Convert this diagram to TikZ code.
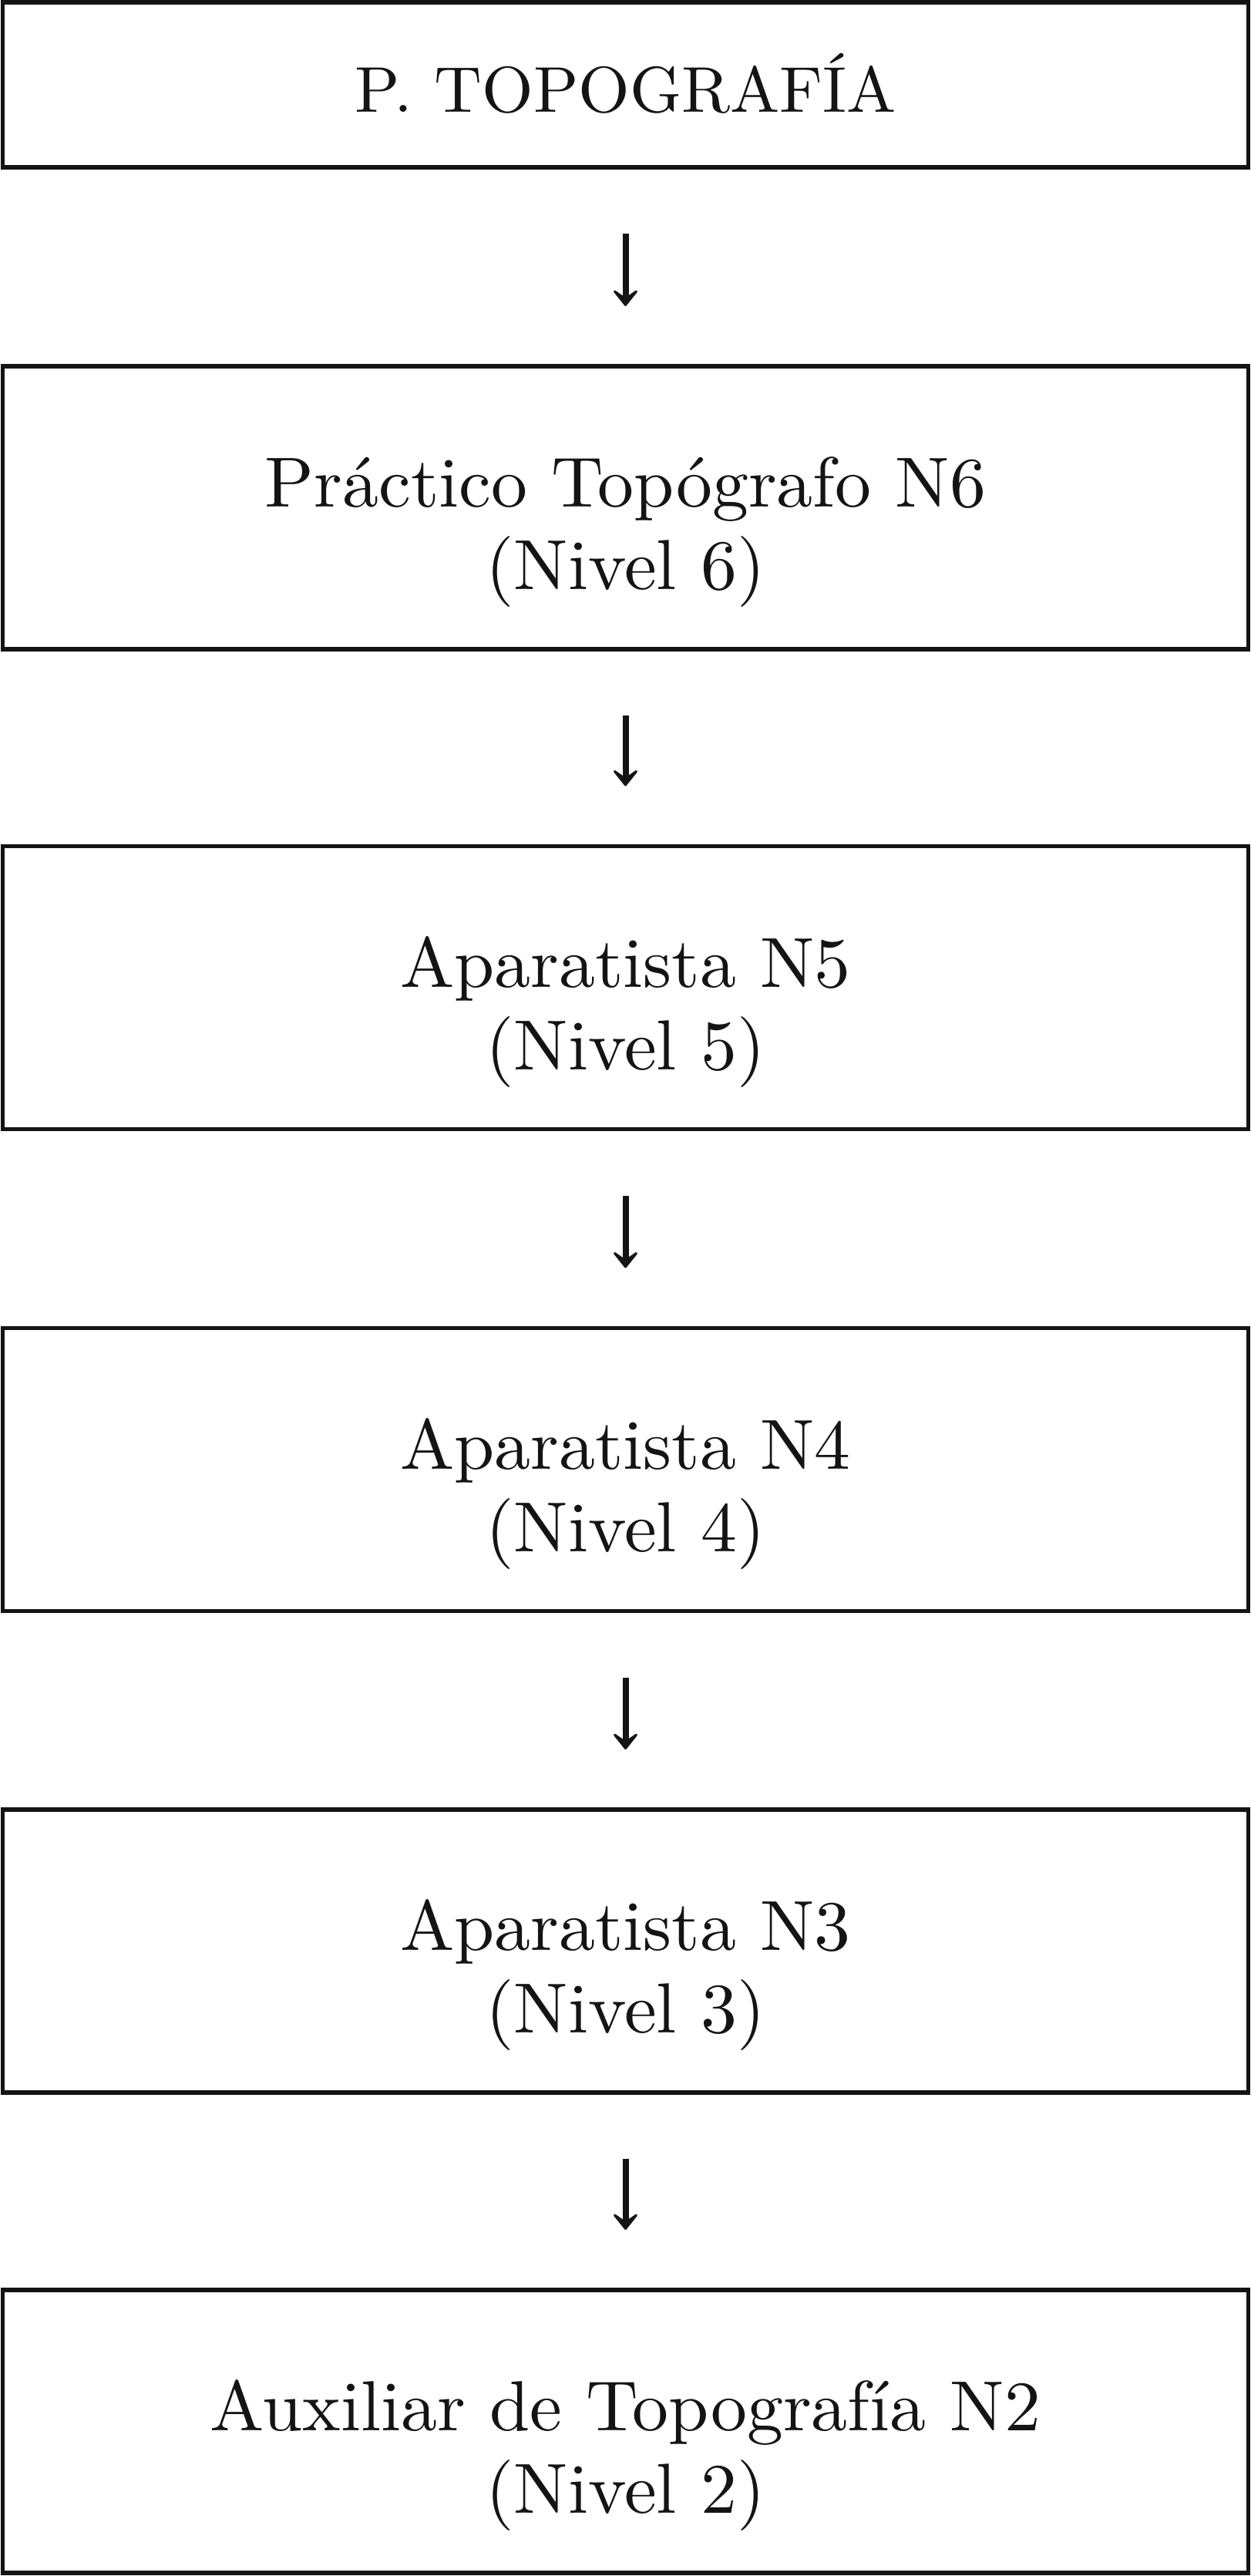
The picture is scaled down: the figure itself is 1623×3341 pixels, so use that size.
\documentclass[tikz,border=0pt]{standalone}
\usepackage{fontspec}
\setmainfont{lmroman10-regular.otf}[FakeStretch=1.02]
\usetikzlibrary{arrows.meta}
\definecolor{ink}{gray}{0.08}
\begin{document}
\begin{tikzpicture}[x=0.25pt,y=-0.25pt,
  box/.style={draw=ink, line width=1.45pt, minimum width=404pt, minimum height=91.75pt,
    inner sep=0pt, outer sep=0pt, align=center, text=ink,
    font=\fontsize{23}{26.75}\selectfont},
  topbox/.style={box, minimum height=53.5pt, font=\fontsize{21}{25}\selectfont,
    text height=17.5pt, text depth=0pt},
  link/.style={draw=ink, line width=2pt,
    -{Stealth[length=6.75pt,width=10.8pt,inset=3.75pt,round]},
    shorten <=21.5pt, shorten >=19.5pt}]
\useasboundingbox (0,0) rectangle (1623,3341);
\node[topbox] (b1) at (811.5,110) {P. TOPOGRAFÍA};
\node[box] (b2) at (811.5,658.5) {\rule{0pt}{32pt}Práctico Topógrafo N6\\(Nivel 6)};
\node[box] (b3) at (811.5,1281) {\rule{0pt}{32pt}Aparatista N5\\(Nivel 5)};
\node[box] (b4) at (811.5,1906) {\rule{0pt}{32pt}Aparatista N4\\(Nivel 4)};
\node[box] (b5) at (811.5,2530.5) {\rule{0pt}{32pt}Aparatista N3\\(Nivel 3)};
\node[box] (b6) at (811.5,3153.5) {\rule{0pt}{32pt}Auxiliar de Topografía N2\\(Nivel 2)};
\draw[link] (b1) -- (b2);
\draw[link] (b2) -- (b3);
\draw[link] (b3) -- (b4);
\draw[link] (b4) -- (b5);
\draw[link] (b5) -- (b6);
\end{tikzpicture}
\end{document}
